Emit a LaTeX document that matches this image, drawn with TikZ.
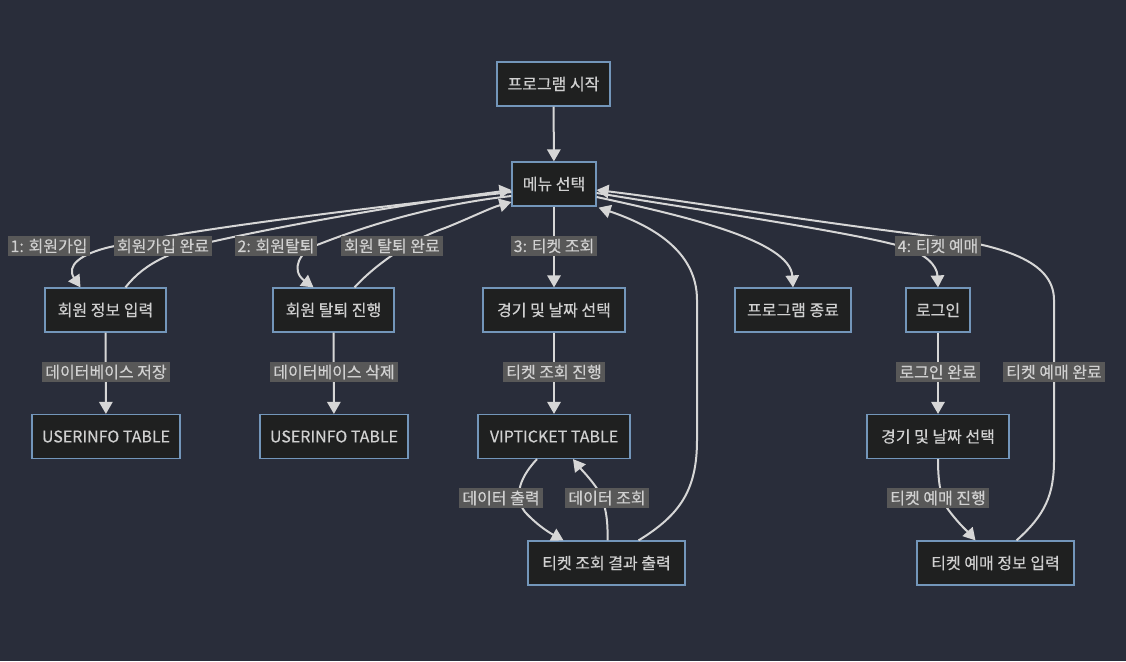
\documentclass[tikz,border=0pt]{standalone}
\usepackage{fontspec}
\setmainfont{Noto Sans CJK KR}[FakeBold=0.35]
\usetikzlibrary{arrows.meta,calc}
\definecolor{bg}{HTML}{292D3A}
\definecolor{nfill}{HTML}{1F2020}
\definecolor{nborder}{HTML}{7396BA}
\definecolor{ntext}{HTML}{D0D0D0}
\definecolor{edgec}{HTML}{D6D6D6}
\definecolor{lblfill}{HTML}{585858}
\begin{document}
\begin{tikzpicture}[x=0.75pt,y=-0.75pt,
  box/.style={draw=nborder,line width=0.9pt,fill=nfill,text=ntext,minimum height=33pt,inner sep=0pt,font=\fontsize{12}{14}\selectfont},
  lbl/.style={fill=lblfill,text=ntext,inner xsep=2.2pt,inner ysep=2.2pt,font=\fontsize{12}{14}\selectfont},
  edge/.style={draw=edgec,line width=1.5pt,-{Triangle[length=9pt,width=10pt]}},
  plain/.style={draw=edgec,line width=1.5pt}]
\fill[bg] (0,0) rectangle (1126,661);
\useasboundingbox (0,0) rectangle (1126,661);

% nodes
\node[box,minimum width=84.75pt] (start) at (553.5,84) {프로그램 시작};
\node[box,minimum width=63pt] (menu) at (554,184) {메뉴 선택};
\node[box,minimum width=90.75pt] (join) at (105.5,310) {회원 정보 입력};
\node[box,minimum width=90.75pt] (quit) at (333.5,310) {회원 탈퇴 진행};
\node[box,minimum width=106.5pt] (game1) at (554,310) {경기 및 날짜 선택};
\node[box,minimum width=87pt] (end) at (793,310) {프로그램 종료};
\node[box,minimum width=48pt] (login) at (938,310) {로그인};
\node[box,minimum width=111pt] (ui1) at (106,436.5) {USERINFO TABLE};
\node[box,minimum width=111pt] (ui2) at (334,436.5) {USERINFO TABLE};
\node[box,minimum width=114pt] (vip) at (554,436.5) {VIPTICKET TABLE};
\node[box,minimum width=106.5pt] (game2) at (938,436.5) {경기 및 날짜 선택};
\node[box,minimum width=117.75pt] (res) at (606.5,563) {티켓 조회 결과 출력};
\node[box,minimum width=117.75pt] (book) at (995.5,563) {티켓 예매 정보 입력};

% edges
\draw[edge] (start) -- (menu);
\draw[edge] ($(menu.west)+(0,8)$) .. controls (350,210) and (200,228) .. (110,247)
   .. controls (80,254) and (66,266) .. ($(join.north)+(-25,0)$);
\draw[edge] ($(join.north)+(20,0)$) .. controls (145,262) and (175,250) .. (215,241)
   .. controls (300,222) and (420,202) .. ($(menu.west)+(0,6)$);
\draw[edge] ($(menu.west)+(0,12)$) .. controls (430,205) and (360,228) .. (317,245)
   .. controls (300,251) and (290,270) .. ($(quit.north)+(-20,0)$);
\draw[edge] ($(quit.north)+(21,0)$) .. controls (375,265) and (410,240) .. (445,228)
   .. controls (470,218) and (490,208) .. ($(menu.west)+(0,18)$);
\draw[edge] (menu) -- (game1);
\draw[edge] ($(res.north)+(32,0)$) .. controls (680,515) and (697,490) .. (697,440)
   -- (697,300) .. controls (697,250) and (650,225) .. ($(menu.south east)+(2,1)$);
\draw[edge] ($(menu.east)+(0,13)$) .. controls (680,215) and (790,240) .. (end.north);
\draw[edge] ($(menu.east)+(0,9)$) .. controls (700,210) and (850,232) .. (900,246)
   .. controls (925,253) and (937,265) .. (login.north);
\draw[edge] ($(book.north)+(21,0)$) .. controls (1045,515) and (1054,495) .. (1054,460)
   -- (1054,300) .. controls (1054,260) and (1000,245) .. (930,236)
   .. controls (800,220) and (680,200) .. ($(menu.east)+(0,6)$);
\draw[edge] (join) -- (ui1);
\draw[edge] (quit) -- (ui2);
\draw[edge] (game1) -- (vip);
\draw[edge] ($(vip.south)+(-17,0)$) .. controls (522,475) and (512,495) .. (525,512)
   .. controls (538,526) and (550,533) .. ($(res.north)+(-43,0)$);
\draw[edge] ($(res.north)+(1,0)$) .. controls (608,520) and (606,505) .. (598,490)
   .. controls (590,478) and (580,468) .. ($(vip.south)+(19,0)$);
\draw[edge] (login) -- (game2);
\draw[edge] (game2.south) .. controls (938,480) and (940,500) .. (950,512)
   .. controls (960,525) and (968,532) .. ($(book.north)+(-20,0)$);

% labels
\node[lbl] (l1) at (49,246) {1: 회원가입};
\node[lbl] (l2) at (163,246) {회원가입 완료};
\node[lbl] (l3) at (276,246) {2: 회원탈퇴};
\node[lbl] (l4) at (392,246) {회원 탈퇴 완료};
\node[lbl] (l5) at (554,246) {3: 티켓 조회};
\node[lbl] (l6) at (938,246) {4: 티켓 예매};
\node[lbl] (l7) at (106,372) {데이터베이스 저장};
\node[lbl] (l8) at (334,372) {데이터베이스 삭제};
\node[lbl] (l9) at (554,372) {티켓 조회 진행};
\node[lbl] (l10) at (938,372) {로그인 완료};
\node[lbl] (l11) at (1054,372) {티켓 예매 완료};
\node[lbl] (l12) at (501,498) {데이터 출력};
\node[lbl] (l13) at (607,498) {데이터 조회};
\node[lbl] (l14) at (938,498) {티켓 예매 진행};
\end{tikzpicture}
\end{document}
